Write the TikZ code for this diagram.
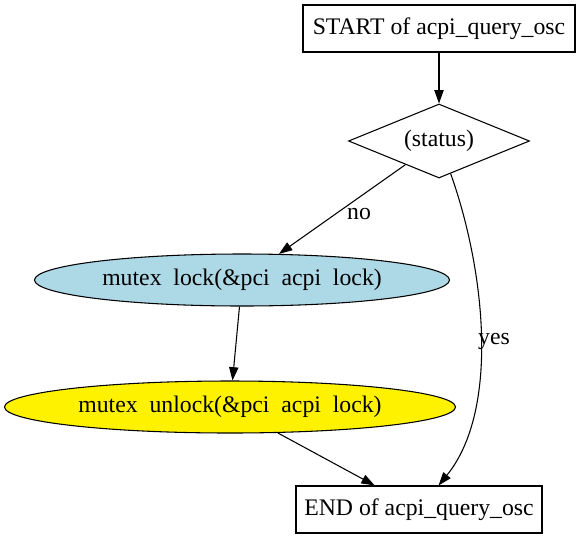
\documentclass[tikz,border=0pt]{standalone}
\usepackage{fontspec}
\setmainfont{Liberation Serif}
\usetikzlibrary{shapes.geometric,arrows.meta}
\begin{document}
\begin{tikzpicture}[x=0.75pt,y=-0.75pt,
  every node/.style={font=\fontsize{17.8pt}{20pt}\selectfont},
  box/.style={draw,line width=0.8pt,rectangle,inner sep=0pt},
  dia/.style={draw,line width=0.8pt,diamond,shape aspect=2.45,inner sep=0pt,minimum width=181*0.75pt,minimum height=74*0.75pt},
  ell/.style={draw,line width=0.8pt,ellipse,inner sep=0pt},
  arr/.style={line width=0.8pt,-{Triangle[length=10pt,width=7pt]}},
  lbl/.style={inner sep=0pt}]
\useasboundingbox (0,0) rectangle (580,539);
\node[box,minimum width=272*0.75pt,minimum height=47*0.75pt] (s) at (439,28.5) {START of acpi\_query\_osc};
\node[dia] (d) at (439,141) {(status)};
\node[ell,fill={rgb,255:red,173;green,216;blue,230},minimum width=415*0.75pt,minimum height=52*0.75pt] (l) at (242,280) {mutex\ \hspace{0.25em}lock(\&pci\ \hspace{0.25em}acpi\ \hspace{0.25em}lock)};
\node[ell,fill=yellow,minimum width=451*0.75pt,minimum height=52*0.75pt] (u) at (230,407) {mutex\ \hspace{0.25em}unlock(\&pci\ \hspace{0.25em}acpi\ \hspace{0.25em}lock)};
\node[box,minimum width=246*0.75pt,minimum height=47*0.75pt] (e) at (419,509.5) {END of acpi\_query\_osc};
\draw[arr] (s) -- (d);
\draw[arr] (d) -- (l);
\draw[arr] (l) -- (u);
\draw[arr] (u) -- (e);
\draw[arr] (d) .. controls (485,270) and (500,410) .. (e);
\node[lbl] (no) at (359,214) {no};
\node[lbl] (yes) at (494,341) {yes};
\end{tikzpicture}
\end{document}
